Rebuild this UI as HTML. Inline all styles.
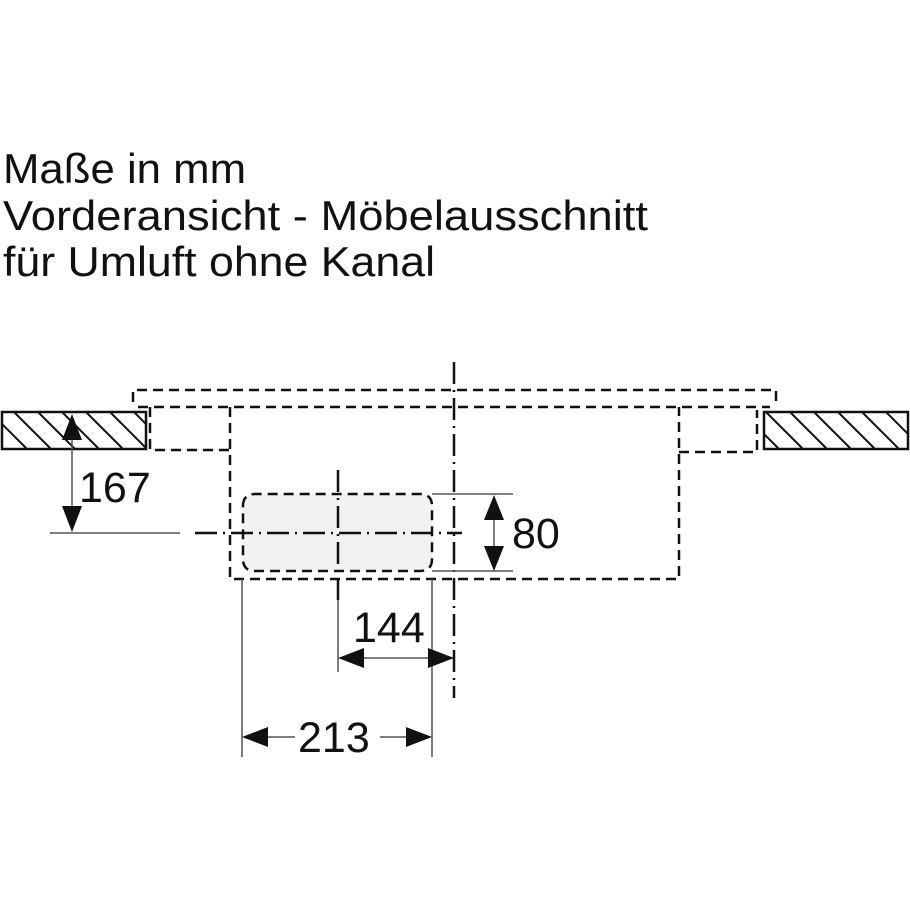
<!DOCTYPE html>
<html><head><meta charset="utf-8"><style>
html,body{margin:0;padding:0;background:#fff;width:910px;height:910px;overflow:hidden}
</style></head><body>
<svg width="910" height="910" viewBox="0 0 910 910" xmlns="http://www.w3.org/2000/svg" font-family="Liberation Sans, Arial, sans-serif">
<defs>
<clipPath id="cl"><rect x="2" y="412" width="144" height="37"/></clipPath>
<clipPath id="cr"><rect x="764" y="412" width="144" height="37"/></clipPath>
</defs>
<g fill="#111" font-size="42">
<text x="3" y="183" textLength="243" lengthAdjust="spacingAndGlyphs">Maße in mm</text>
<text x="3" y="230" textLength="645" lengthAdjust="spacingAndGlyphs">Vorderansicht - Möbelausschnitt</text>
<text x="3" y="276" textLength="432" lengthAdjust="spacingAndGlyphs">für Umluft ohne Kanal</text>
</g>
<rect x="243" y="494" width="189" height="77" rx="12" fill="#f2f2f2"/>
<g stroke="#111" stroke-width="2" fill="none">
<g clip-path="url(#cl)">
<path d="M-10 412 l37 37 M14 412 l37 37 M38 412 l37 37 M62 412 l37 37 M86 412 l37 37 M110 412 l37 37 M134 412 l37 37"/>
</g>
<rect x="2" y="412" width="144" height="37" stroke-width="2.5"/>
<g clip-path="url(#cr)">
<path d="M766 412 l37 37 M790 412 l37 37 M814 412 l37 37 M838 412 l37 37 M862 412 l37 37 M886 412 l37 37 M742 412 l37 37"/>
</g>
<rect x="764" y="412" width="144" height="37" stroke-width="2.5"/>
</g>
<g stroke="#111" stroke-width="2.5" fill="none" stroke-dasharray="10 6">
<path d="M133 402 V390 H776 V402"/>
<path d="M138 407 H770"/>
<path d="M150 407 V450 H230"/>
<path d="M230 407 V579 H679 V407"/>
<path d="M679 452 H757 V410"/>
<path d="M243 506 Q243 494 255 494 H420 Q432 494 432 506 V559 Q432 571 420 571 H255 Q243 571 243 559 Z"/>
</g>
<g stroke="#111" stroke-width="2.5" fill="none" stroke-dasharray="22 6 2 6">
<path d="M454 362 V698"/>
<path d="M338 470 V600"/>
<path d="M195 533 H462"/>
</g>
<g stroke="#555" stroke-width="1.5" fill="none">
<path d="M50 533 H180"/>
<path d="M72 418 V528"/>
<path d="M432 494 H513 M432 571 H513 M494 500 V566"/>
<path d="M242 579 V757 M432 579 V757 M338 600 V672"/>
<path d="M340 658 H452"/>
<path d="M244 737 H295 M380 737 H430"/>
</g>
<g fill="#111">
<path d="M72 414 L62 440 H82 Z M72 532 L62 506 H82 Z"/>
<path d="M494 495 L484 520 H504 Z M494 571 L484 546 H504 Z"/>
<path d="M338 658 L364 648 V668 Z M454 658 L428 648 V668 Z"/>
<path d="M242 737 L268 727 V747 Z M432 737 L406 727 V747 Z"/>
</g>
<g fill="#111" font-size="43">
<text x="79" y="502">167</text>
<text x="512" y="548">80</text>
<text x="353" y="642">144</text>
<text x="298" y="752">213</text>
</g>
</svg>
</body></html>
